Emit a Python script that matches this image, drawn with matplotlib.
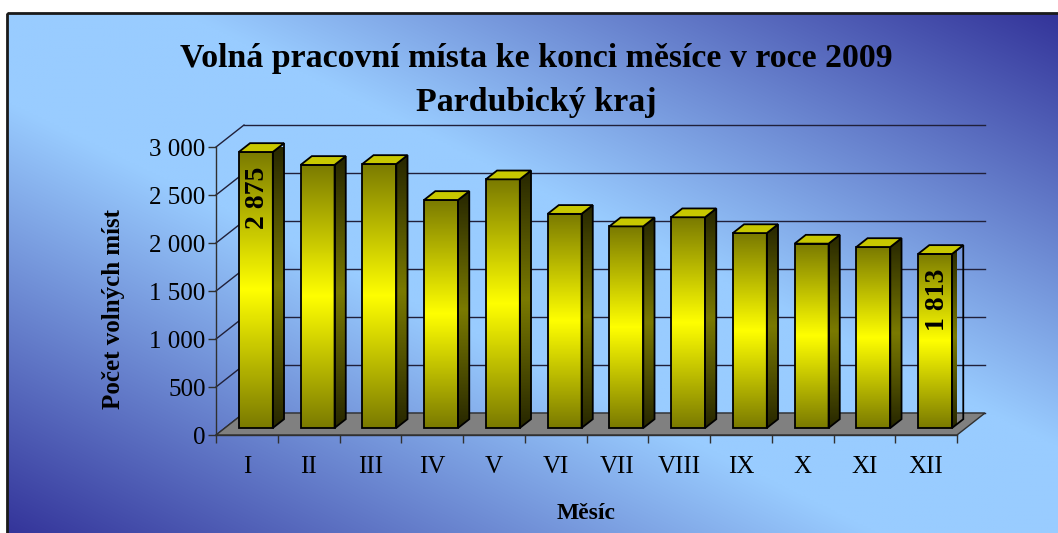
import numpy as np
import matplotlib
matplotlib.use("Agg")
import matplotlib.pyplot as plt
from matplotlib.patches import Polygon, Rectangle
from matplotlib.colors import LinearSegmentedColormap
from matplotlib.ticker import FuncFormatter

# ---------------- data ----------------
months = ["I", "II", "III", "IV", "V", "VI", "VII", "VIII", "IX", "X", "XI", "XII"]
vacancies = [2875, 2740, 2750, 2375, 2590, 2230, 2100, 2195, 2030, 1920, 1885, 1813]
labeled_bars = [0, 11]
y_ticks = [0, 500, 1000, 1500, 2000, 2500, 3000]
title_lines = ["Volná pracovní místa ke konci měsíce v roce 2009", "Pardubický kraj"]
y_label = "Počet volných míst"
x_label = "Měsíc"

plt.rcParams['font.family'] = ['Liberation Serif', 'DejaVu Serif']

W, H = 1058, 533
fig = plt.figure(figsize=(W / 100, H / 100), dpi=100)

# ---------------- background (diagonal gradient + frame) ----------------
bg = fig.add_axes([0, 0, 1, 1], zorder=0)
fx0, fy0, fx1, fy1 = 7, 13, 1062, 537
U, V = np.meshgrid(np.linspace(0, 1, 500), np.linspace(0, 1, 260))
t = np.abs(U - V)
f = np.clip((t - 0.17) / 0.83, 0, 1)
light = np.array([153, 204, 255]) / 255
dark = np.array([51, 51, 153]) / 255
img = light + (dark - light) * f[..., None]
bg.imshow(img, extent=(fx0, fx1, fy1, fy0), interpolation='bilinear', aspect='auto')
bg.add_patch(Rectangle((fx0, fy0), fx1 - fx0, fy1 - fy0, fill=False, lw=2, ec='#1a1a1a'))
bg.set_xlim(0, W)
bg.set_ylim(H, 0)
bg.axis('off')

# ---------------- main axes ----------------
ax = fig.add_axes([216 / W, 98 / H, 741 / W, 288 / H], zorder=1)
ax.patch.set_alpha(0)
n = len(months)
DX, DY = 0.4534, 229.0      # depth offsets (category units, value units)
d0, d1 = 0.32, 0.72         # bar depth range
half = 0.275                # half bar width

grid_c = '#20203a'
for k in y_ticks:
    ax.plot([DX, n + DX], [k + DY, k + DY], color=grid_c, lw=1, clip_on=False, zorder=1)
    ax.plot([0, DX], [k, k + DY], color=grid_c, lw=1, clip_on=False, zorder=1)

floor = Polygon([(0, 0), (n, 0), (n + DX, DY), (DX, DY)], closed=True,
                fc='#808080', ec='#303030', lw=1, clip_on=False, zorder=2)
ax.add_patch(floor)

cm_front = LinearSegmentedColormap.from_list('front', ['#7a7a00', '#ffff00', '#7a7a00'])
cm_side = LinearSegmentedColormap.from_list('side', ['#262600', '#7a7a00', '#262600'])
grad = np.linspace(0, 1, 256)[:, None]
ddx, ddy = (d1 - d0) * DX, (d1 - d0) * DY

for i, v in enumerate(vacancies):
    xl = i + 0.5 - half + d0 * DX
    xr = i + 0.5 + half + d0 * DX
    yb = d0 * DY
    yt = v + d0 * DY
    ax.imshow(grad, cmap=cm_front, extent=(xl, xr, yb, yt), aspect='auto',
              origin='lower', interpolation='bilinear', zorder=3, clip_on=False)
    ax.add_patch(Rectangle((xl, yb), xr - xl, yt - yb, fill=False, ec='black',
                           lw=1.3, zorder=4, clip_on=False))
    side = Polygon([(xr, yb), (xr + ddx, yb + ddy), (xr + ddx, yt + ddy), (xr, yt)],
                   closed=True, fc='none', ec='black', lw=1.3, zorder=4, clip_on=False)
    ax.add_patch(side)
    im = ax.imshow(grad, cmap=cm_side, extent=(xr, xr + ddx, yb, yt + ddy), aspect='auto',
                   origin='lower', interpolation='bilinear', zorder=3)
    im.set_clip_path(side)
    im.set_clip_box(None)
    top = Polygon([(xl, yt), (xr, yt), (xr + ddx, yt + ddy), (xl + ddx, yt + ddy)],
                  closed=True, fc='#c8c800', ec='black', lw=1.3, zorder=4, clip_on=False)
    ax.add_patch(top)

for i in labeled_bars:
    v = vacancies[i]
    ax.annotate(f"{v:,}".replace(",", " "), xy=(i + 0.5 + d0 * DX, v + d0 * DY),
                xytext=(2, -15), textcoords='offset pixels', rotation=90,
                ha='center', va='top', fontsize=20, fontweight='bold', zorder=6,
                annotation_clip=False)

ax.set_xlim(0, n)
ax.set_ylim(0, 3000)
ax.set_yticks(y_ticks)
ax.yaxis.set_major_formatter(FuncFormatter(lambda val, p: f"{int(val):,}".replace(",", " ")))
ax.tick_params(axis='y', direction='out', length=6, width=1, pad=1.5, labelsize=18,
               color='#303030')
ax.set_xticks(range(n + 1))
ax.set_xticklabels([])
ax.set_xticks(np.arange(n) + 0.5, minor=True)
ax.set_xticklabels(months, minor=True)
ax.tick_params(axis='x', which='major', direction='out', length=6, width=1, color='#303030')
ax.tick_params(axis='x', which='minor', length=0, pad=15, labelsize=18)
for s in ['top', 'right']:
    ax.spines[s].set_visible(False)
for s in ['left', 'bottom']:
    ax.spines[s].set_color('#303030')
    ax.spines[s].set_linewidth(1)

ax.text(-0.139, 0.4385, y_label, transform=ax.transAxes, rotation=90, ha='center',
        va='center', fontsize=18, fontweight='bold')
ax.text(0.5, -0.274, x_label, transform=ax.transAxes, ha='center', va='center',
        fontsize=17, fontweight='bold')

# ---------------- titles (fit width) ----------------
t1 = fig.text(536 / W, 1 - 58 / H, title_lines[0], ha='center', va='center',
              fontsize=22, fontweight='bold')
t2 = fig.text(536 / W, 1 - 103 / H, title_lines[1], ha='center', va='center',
              fontsize=22, fontweight='bold')
fig.canvas.draw()
wpx = t1.get_window_extent().width
fs = 22 * 713 / wpx
t1.set_fontsize(fs)
t2.set_fontsize(fs)

fig.savefig("out.png", dpi=100)
